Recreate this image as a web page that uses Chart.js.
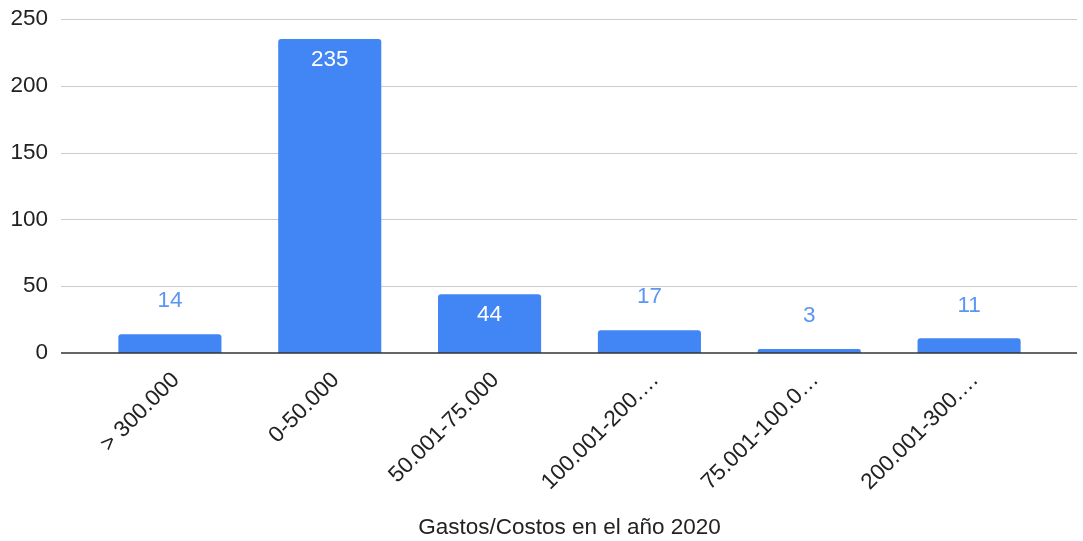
<!DOCTYPE html>
<html>
<head>
<meta charset="utf-8">
<script src="https://cdn.jsdelivr.net/npm/chart.js@4.4.1/dist/chart.umd.min.js"></script>
<style>
  html, body { margin: 0; padding: 0; background: #ffffff; }
  #wrap { width: 1083px; height: 541px; }
</style>
</head>
<body>
<div id="wrap"><canvas id="c" width="1083" height="541"></canvas></div>
<script>
// Spending ranges (pesos) and number of responses for 2020
const categories = ["> 300.000", "0-50.000", "50.001-75.000", "100.001-200.000", "75.001-100.000", "200.001-300.000"];
const counts = [14, 235, 44, 17, 3, 11];
const yTicks = [0, 50, 100, 150, 200, 250];
const axisTitle = "Gastos/Costos en el año 2020";

const BAR_COLOR = "#4285f4";
const LABEL_OUT = "#5b95f5";
const TEXT = "#222222";
const FONT = "'Liberation Sans', Arial, sans-serif";
const SIZE = 22.5;

// long range names are shortened with an ellipsis
function shorten(s) {
  return s.length > 13 ? s.slice(0, 12) + "…" : s;
}

// horizontal gridlines and baseline, running wider than the bar area
const gridPlugin = {
  id: "wideGrid",
  beforeDatasetsDraw(chart) {
    const ctx = chart.ctx;
    const y = chart.scales.y;
    ctx.save();
    ctx.strokeStyle = "#cccccc";
    ctx.lineWidth = 1;
    yTicks.forEach(v => {
      if (v === 0) return;
      const py = Math.round(y.getPixelForValue(v)) + 0.5;
      ctx.beginPath();
      ctx.moveTo(61, py);
      ctx.lineTo(1077, py);
      ctx.stroke();
    });
    ctx.restore();
  },
  afterDatasetsDraw(chart) {
    const ctx = chart.ctx;
    const py = chart.scales.y.getPixelForValue(0);
    ctx.save();
    ctx.strokeStyle = "#333333";
    ctx.lineWidth = 1.5;
    ctx.beginPath();
    ctx.moveTo(61, py);
    ctx.lineTo(1077, py);
    ctx.stroke();
    ctx.restore();
  }
};

// value labels: white inside tall bars, blue above short ones
const valuePlugin = {
  id: "valueLabels",
  afterDatasetsDraw(chart) {
    const ctx = chart.ctx;
    const meta = chart.getDatasetMeta(0);
    ctx.save();
    ctx.font = SIZE + "px " + FONT;
    ctx.textAlign = "center";
    ctx.textBaseline = "middle";
    meta.data.forEach((bar, i) => {
      const v = counts[i];
      const h = bar.base - bar.y;
      if (h > 40) {
        ctx.fillStyle = "#ffffff";
        ctx.fillText(String(v), bar.x, bar.y + 21);
      } else {
        ctx.fillStyle = LABEL_OUT;
        ctx.fillText(String(v), bar.x, bar.y - 33);
      }
    });
    ctx.restore();
  }
};

new Chart(document.getElementById("c"), {
  type: "bar",
  data: {
    labels: categories,
    datasets: [{
      data: counts,
      backgroundColor: BAR_COLOR,
      borderRadius: { topLeft: 3, topRight: 3, bottomLeft: 0, bottomRight: 0 },
      borderSkipped: "bottom",
      barPercentage: 0.645,
      categoryPercentage: 1.0
    }]
  },
  options: {
    responsive: false,
    animation: false,
    devicePixelRatio: 1,
    layout: { padding: { top: 19, right: 34, left: 0, bottom: 0 } },
    plugins: {
      legend: { display: false },
      tooltip: { enabled: false }
    },
    scales: {
      y: {
        min: 0,
        max: 250,
        afterBuildTicks(scale) { scale.ticks = yTicks.map(v => ({ value: v })); },
        afterFit(scale) { scale.width = 90; scale.paddingTop = 0; scale.paddingBottom = 0; },
        grid: { display: false },
        border: { display: false },
        ticks: {
          padding: 34,
          color: TEXT,
          font: { family: FONT, size: SIZE }
        }
      },
      x: {
        afterFit(scale) { scale.height = 188; scale.paddingLeft = 0; scale.paddingRight = 0; },
        grid: { display: false },
        border: { display: false },
        ticks: {
          minRotation: 45,
          maxRotation: 45,
          padding: 6,
          labelOffset: 6,
          color: TEXT,
          font: { family: FONT, size: SIZE },
          callback(v, i) { return shorten(categories[i]); }
        },
        title: {
          display: true,
          text: axisTitle,
          color: TEXT,
          font: { family: FONT, size: SIZE },
          padding: { top: 0, bottom: 0 }
        }
      }
    }
  },
  plugins: [gridPlugin, valuePlugin]
});
</script>
</body>
</html>
